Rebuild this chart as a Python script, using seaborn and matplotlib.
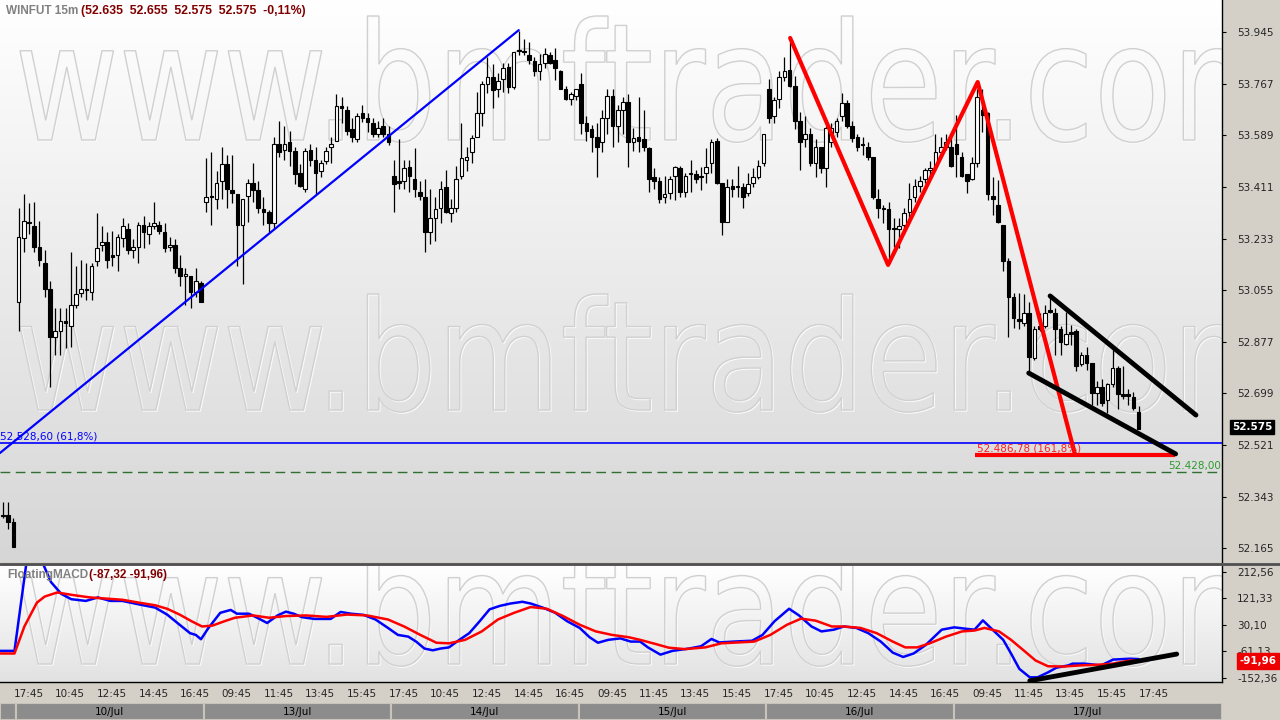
import numpy as np
import seaborn as sns
import matplotlib.pyplot as plt
from matplotlib.patches import Rectangle, PathPatch
from matplotlib.textpath import TextPath
from matplotlib.font_manager import FontProperties
from matplotlib.transforms import Affine2D, IdentityTransform
from matplotlib.colors import LinearSegmentedColormap

# 15m candles, 9/Jul 17:15 -> 17/Jul 17:45 (36 candles per session)
opens = [
    52280, 52280, 52255,
    53015, 53235, 53290, 53275, 53205, 53150, 53060, 52895, 52915, 52950,
    52930, 53005, 53045, 53060, 53050, 53155, 53210, 53220, 53175, 53175,
    53235, 53265, 53195, 53205, 53280, 53250, 53275, 53280, 53255, 53205,
    53210, 53130, 53105, 53105, 53050, 53080,
    53360, 53380, 53370, 53430, 53490, 53400, 53385, 53280, 53380, 53425,
    53400, 53335, 53325, 53285, 53560, 53540, 53565, 53535, 53460, 53405,
    53540, 53505, 53465, 53500, 53550, 53570, 53690, 53675, 53610, 53575,
    53665, 53650, 53630, 53595, 53620, 53595,
    53450, 53430, 53430, 53480, 53440, 53395, 53375, 53255, 53305, 53340,
    53410, 53320, 53340, 53450, 53505, 53530, 53585, 53665, 53765, 53790,
    53750, 53785, 53825, 53755, 53885, 53880, 53865, 53845, 53810, 53840,
    53865, 53850, 53810, 53750, 53715, 53725,
    53765, 53630, 53610, 53585, 53565, 53650, 53725, 53620, 53675, 53705,
    53565, 53585, 53575, 53545, 53445, 53430, 53375, 53390, 53450, 53475,
    53395, 53460, 53455, 53450, 53460, 53495, 53570, 53425, 53290, 53415,
    53410, 53410, 53390, 53425, 53445, 53495,
    53750, 53655, 53715, 53790, 53815, 53760, 53640, 53575, 53595, 53495,
    53550, 53475, 53565, 53600, 53655, 53700, 53620, 53585, 53560, 53550,
    53515, 53370, 53340, 53335, 53270, 53265, 53280, 53325, 53375, 53415,
    53440, 53470, 53480, 53530, 53550, 53550,
    53560, 53515, 53455, 53440, 53495, 53675, 53665, 53380, 53350, 53280,
    53155, 53030, 52955, 52940, 52975, 52820, 52930, 52930, 52985, 52975,
    52920, 52870, 52910, 52915, 52800, 52830, 52805, 52700, 52720, 52675,
    52730, 52785, 52695, 52695, 52685, 52635,
]
highs = [
    52325, 52325, 52270,
    53340, 53385, 53355, 53360, 53295, 53195, 53085, 52995, 52995, 52995,
    53185, 53140, 53160, 53150, 53150, 53320, 53275, 53255, 53260, 53250,
    53305, 53285, 53230, 53290, 53310, 53290, 53360, 53295, 53285, 53240,
    53230, 53175, 53130, 53105, 53130, 53085,
    53510, 53530, 53465, 53550, 53520, 53520, 53385, 53370, 53440, 53495,
    53430, 53375, 53330, 53585, 53640, 53620, 53605, 53550, 53490, 53545,
    53560, 53550, 53505, 53550, 53585, 53730, 53720, 53690, 53650, 53665,
    53695, 53665, 53650, 53640, 53650, 53620,
    53505, 53575, 53505, 53505, 53545, 53430, 53440, 53405, 53375, 53430,
    53470, 53370, 53485, 53630, 53550, 53590, 53740, 53775, 53860, 53835,
    53805, 53840, 53840, 53875, 53950, 53920, 53910, 53860, 53870, 53890,
    53875, 53890, 53815, 53760, 53740, 53750,
    53805, 53655, 53625, 53630, 53675, 53750, 53750, 53695, 53720, 53730,
    53615, 53720, 53675, 53550, 53475, 53445, 53450, 53450, 53485, 53485,
    53460, 53505, 53470, 53480, 53545, 53575, 53580, 53425, 53440, 53440,
    53485, 53425, 53460, 53475, 53505, 53595,
    53785, 53720, 53810, 53860, 53910, 53795, 53670, 53655, 53615, 53575,
    53550, 53620, 53630, 53650, 53735, 53710, 53640, 53595, 53585, 53565,
    53515, 53405, 53350, 53360, 53305, 53305, 53340, 53425, 53440, 53450,
    53475, 53500, 53595, 53585, 53595, 53585,
    53660, 53530, 53455, 53515, 53750, 53750, 53670, 53445, 53435, 53280,
    53165, 53045, 53045, 53040, 53015, 52930, 52975, 53005, 53040, 52995,
    52930, 52980, 52935, 52920, 52840, 52860, 52805, 52740, 52750, 52735,
    52850, 52795, 52795, 52715, 52705, 52655,
]
lows = [
    52270, 52230, 52170,
    52915, 53185, 53250, 53185, 53140, 53030, 52720, 52830, 52830, 52855,
    52860, 52995, 53030, 53020, 53020, 53140, 53190, 53130, 53140, 53120,
    53205, 53180, 53165, 53150, 53200, 53215, 53265, 53250, 53185, 53190,
    53115, 53070, 53005, 52995, 53030, 53015,
    53325, 53280, 53335, 53370, 53340, 53355, 53140, 53075, 53290, 53360,
    53320, 53280, 53255, 53265, 53515, 53505, 53485, 53420, 53410, 53395,
    53485, 53385, 53445, 53490, 53495, 53570, 53630, 53590, 53565, 53565,
    53635, 53600, 53585, 53585, 53585, 53555,
    53325, 53405, 53405, 53395, 53375, 53365, 53185, 53215, 53225, 53285,
    53320, 53290, 53325, 53440, 53465, 53495, 53585, 53620, 53735, 53685,
    53720, 53740, 53735, 53750, 53865, 53865, 53835, 53795, 53780, 53820,
    53835, 53780, 53750, 53710, 53695, 53710,
    53595, 53570, 53530, 53445, 53530, 53595, 53550, 53565, 53595, 53480,
    53535, 53530, 53535, 53395, 53405, 53355, 53355, 53370, 53365, 53375,
    53375, 53395, 53425, 53400, 53425, 53460, 53420, 53245, 53290, 53375,
    53375, 53340, 53380, 53410, 53440, 53485,
    53630, 53630, 53685, 53775, 53755, 53610, 53470, 53550, 53485, 53445,
    53460, 53410, 53550, 53585, 53640, 53615, 53565, 53535, 53520, 53505,
    53370, 53305, 53285, 53150, 53205, 53200, 53250, 53295, 53360, 53395,
    53425, 53450, 53465, 53510, 53540, 53480,
    53445, 53445, 53390, 53435, 53480, 53600, 53365, 53315, 53285, 53120,
    52895, 52925, 52920, 52930, 52775, 52815, 52915, 52925, 52975, 52830,
    52830, 52865, 52865, 52775, 52795, 52780, 52660, 52660, 52655, 52630,
    52720, 52645, 52680, 52660, 52640, 52575,
]
closes = [
    52275, 52255, 52170,
    53240, 53295, 53285, 53205, 53160, 53060, 52895, 52915, 52950, 52940,
    53005, 53040, 53060, 53055, 53140, 53200, 53220, 53160, 53170, 53240,
    53275, 53195, 53205, 53280, 53255, 53275, 53285, 53260, 53200, 53210,
    53130, 53105, 53110, 53050, 53085, 53015,
    53375, 53375, 53425, 53490, 53405, 53390, 53280, 53370, 53425, 53400,
    53340, 53325, 53285, 53560, 53530, 53560, 53535, 53455, 53415, 53535,
    53505, 53460, 53495, 53535, 53560, 53690, 53685, 53605, 53585, 53655,
    53650, 53635, 53595, 53615, 53595, 53565,
    53420, 53425, 53475, 53450, 53405, 53380, 53255, 53305, 53335, 53405,
    53325, 53340, 53440, 53510, 53515, 53580, 53665, 53765, 53790, 53745,
    53775, 53820, 53755, 53875, 53880, 53875, 53850, 53810, 53835, 53870,
    53840, 53820, 53750, 53715, 53730, 53750,
    53630, 53605, 53585, 53550, 53650, 53725, 53620, 53675, 53705, 53565,
    53580, 53570, 53550, 53440, 53430, 53370, 53385, 53440, 53480, 53395,
    53450, 53455, 53440, 53445, 53480, 53565, 53425, 53290, 53410, 53405,
    53415, 53375, 53420, 53445, 53485, 53595,
    53650, 53710, 53790, 53810, 53760, 53640, 53565, 53595, 53495, 53550,
    53475, 53615, 53615, 53640, 53700, 53620, 53580, 53550, 53555, 53515,
    53375, 53340, 53335, 53265, 53265, 53275, 53320, 53370, 53415, 53430,
    53470, 53475, 53530, 53550, 53565, 53485,
    53525, 53450, 53430, 53495, 53720, 53660, 53385, 53370, 53290, 53155,
    53030, 52960, 52950, 52975, 52825, 52920, 52920, 52975, 52980, 52920,
    52875, 52905, 52905, 52795, 52830, 52805, 52700, 52720, 52665, 52730,
    52785, 52695, 52690, 52690, 52650, 52575,
]

price_ticks = [52165, 52343, 52521, 52699, 52877, 53055, 53233, 53411, 53589, 53767, 53945]
price_tick_labels = ["52.165", "52.343", "52.521", "52.699", "52.877", "53.055",
                     "53.233", "53.411", "53.589", "53.767", "53.945"]

time_labels = ["17:45", "10:45", "12:45", "14:45", "16:45",
               "09:45", "11:45", "13:45", "15:45", "17:45",
               "10:45", "12:45", "14:45", "16:45",
               "09:45", "11:45", "13:45", "15:45", "17:45",
               "10:45", "12:45", "14:45", "16:45",
               "09:45", "11:45", "13:45", "15:45", "17:45"]
date_labels = ["", "10/Jul", "13/Jul", "14/Jul", "15/Jul", "16/Jul", "17/Jul"]
day_first_candle = [0, 3, 39, 75, 111, 147, 183]

# FloatingMACD (vertices read at candle positions)
macd_x = [-0.6, 2.2, 4.5, 6.5, 9.2, 11.2, 13.1, 15.9, 18.2, 20.6, 22.9, 26.1, 29.2, 31.5,
          33.9, 35.9, 37.0, 38.0, 39.4, 41.7, 43.7, 44.9, 47.2, 48.8, 50.7, 52.7, 54.3,
          55.8, 57.4, 59.8, 62.9, 64.8, 66.8, 69.2, 71.5, 73.9, 75.8, 77.8, 79.3, 80.9,
          82.5, 84.0, 85.6, 87.6, 89.5, 91.5, 93.4, 95.4, 97.4, 99.7, 101.3, 103.6, 106.0,
          108.3, 110.7, 112.6, 114.2, 116.2, 118.5, 120.5, 122.3, 123.8, 126.2, 128.5,
          131.7, 134.0, 136.0, 137.5, 140.3, 143.8, 145.8, 148.1, 150.9, 152.8, 155.2,
          157.1, 159.5, 161.4, 163.8, 166.1, 168.5, 170.8, 172.8, 174.8, 177.1, 180.2,
          182.6, 184.9, 186.5, 188.1, 189.6, 192.0, 193.5, 195.1, 197.1, 198.6, 200.6,
          202.2, 204.5, 205.3, 207.7, 209.2, 210.8, 213.1, 216.3, 218.0]
macd_vals = [-59, -59, 245, 290, 178, 137, 119, 113, 125, 113, 113, 101, 90, 66,
             31, 2, -4, -19, 19, 72, 82, 69, 69, 55, 37, 63, 76,
             69, 57, 51, 51, 75, 69, 65, 49, 20, -4, -10, -27, -51,
             -57, -51, -47, -21, 2, 43, 84, 96, 104, 110, 104, 90, 72,
             43, 20, -12, -31, -21, -16, -27, -27, -47, -72, -59,
             -51, -43, -18, -30, -27, -24, -4, 43, 86, 63, 25,
             8, 14, 25, 20, 2, -27, -65, -80, -68, -39, 14,
             22, 17, 14, 46, 20, -21, -68, -121, -150, -150, -133,
             -117, -109, -103, -103, -106, -109, -89, -86, -87.32]
signal_x = [-0.6, 2.2, 4.1, 6.5, 8.0, 10.4, 13.5, 16.7, 19.8, 22.9, 26.1, 29.2, 31.5, 33.9,
            36.2, 38.2, 40.2, 42.5, 44.5, 48.0, 51.1, 54.3, 58.2, 62.1, 66.0, 69.9, 73.9,
            77.0, 80.1, 83.2, 85.6, 88.7, 91.9, 95.0, 98.1, 101.3, 104.4, 107.5, 110.7,
            113.8, 116.9, 120.1, 122.3, 125.4, 127.8, 130.9, 134.8, 137.9, 144.2, 147.3,
            150.5, 153.2, 156.0, 159.1, 161.4, 164.6, 167.7, 170.8, 173.2, 175.5, 177.9,
            181.0, 184.1, 186.5, 188.4, 191.2, 193.5, 195.9, 198.2, 200.6, 203.7, 206.8,
            210.0, 213.1, 216.3, 218.0]
signal_vals = [-68, -68, 25, 107, 128, 142, 133, 125, 121, 117, 107, 98, 86, 66,
               43, 25, 28, 43, 55, 63, 55, 61, 63, 58, 66, 63, 49,
               25, -4, -31, -33, -21, 8, 49, 72, 92, 86, 61, 31,
               8, -4, -12, -21, -36, -48, -53, -47, -33, -27, -4,
               31, 52, 45, 25, 25, 20, 2, -27, -47, -47, -33,
               -10, 8, 11, 20, 8, -21, -57, -92, -112, -113, -109,
               -107, -103, -92, -91.96]
macd_ticks = [-152.36, -61.13, 30.10, 121.33, 212.56]
macd_tick_labels = ["-152,36", "-61,13", "30,10", "121,33", "212,56"]

# drawn studies (candle index, price)
trend_x = [-0.6, 99.0]
trend_y = [52493, 53952]
zigzag_x = [151.1, 169.9, 187.1, 205.8]
zigzag_y = [53925, 53142, 53773, 52486.78]
fibo_618 = 52528.60
fibo_1618 = 52486.78
fibo_1618_span = [186.6, 224.9]
target = 52428.00
channel_top_x = [201.0, 229.0]
channel_top_y = [53035, 52624]
channel_bot_x = [196.9, 225.1]
channel_bot_y = [52769, 52490]
macd_trend_x = [197.1, 225.3]
macd_trend_y = [-162, -70]

W, H = 1280, 720
XL = (-0.58, 234.0)

sns.set_style("white")
plt.rcParams["font.family"] = ["DejaVu Sans"]


def px(x, y):
    return x / W, 1 - y / H


def gradient(ax, top, bottom):
    cmap = LinearSegmentedColormap.from_list("bg", [top, bottom])
    ax.imshow(np.linspace(0, 1, 256).reshape(-1, 1), extent=[0, 1, 0, 1],
              transform=ax.transAxes, cmap=cmap, aspect="auto", origin="upper", zorder=0)


def watermark(ax, x0, baseline, asc=124, width=1265):
    # outlined site name behind the price data
    tp = TextPath((0, 0), "www.bmftrader.com", size=1, prop=FontProperties(family="DejaVu Sans"))
    ext = tp.get_extents()
    tr = Affine2D().translate(-ext.x0, 0).scale(width / ext.width, asc / ext.y1).translate(x0, H - baseline)
    path = tr.transform_path(tp)
    for dx, dy, col in [(1.0, -1.0, "#fafafa"), (0, 0, "#d0d0d0")]:
        p = PathPatch(path, facecolor="none", edgecolor=col, lw=1.0, zorder=1)
        p.set_transform(Affine2D().translate(dx, dy) + IdentityTransform())
        ax.add_patch(p)


fig = plt.figure(figsize=(W / 100, H / 100), dpi=100)
fig.patch.set_facecolor("#d4d0c8")

# ---- price panel ----
ax = fig.add_axes([0, (H - 562) / H, 1222 / W, 562 / H])
gradient(ax, "#ffffff", "#d6d6d6")
watermark(ax, 20, 140)
watermark(ax, 20, 410, asc=116)

x = np.arange(len(closes))
o, h, l, c = (np.array(v, dtype=float) for v in (opens, highs, lows, closes))
body_lo = np.minimum(o, c)
body_h = np.maximum(np.abs(c - o), 3)
fills = np.where(c >= o, "white", "black")
ax.vlines(x, l, h, color="black", lw=0.9, zorder=3)
ax.bar(x, body_h, bottom=body_lo, width=0.7, color=fills, edgecolor="black", linewidth=0.8, zorder=4)

ax.plot(trend_x, trend_y, color="#0000ff", lw=1.6, zorder=5)
ax.axhline(fibo_618, color="#0000ff", lw=1.2, zorder=5)
ax.text(XL[0], fibo_618 + 3, "52.528,60 (61,8%)", color="#0000ff", fontsize=7.5, va="bottom", ha="left", zorder=6)
ax.axhline(target, color="#2f6f2f", lw=1.0, ls=(0, (7, 4)), zorder=5)
ax.text(233.8, target + 2, "52.428,00", color="#2e9a2e", fontsize=7.5, va="bottom", ha="right", zorder=6)
ax.plot(zigzag_x, zigzag_y, color="#ff0000", lw=3, solid_capstyle="round", zorder=6)
ax.hlines(fibo_1618, *fibo_1618_span, color="#ff0000", lw=3, zorder=6)
ax.text(fibo_1618_span[0] + 0.3, fibo_1618 + 6, "52.486,78 (161,8%)", color="#ff2020", fontsize=7.5,
        va="bottom", ha="left", zorder=6)
ax.plot(channel_top_x, channel_top_y, color="black", lw=3.5, solid_capstyle="round", zorder=6)
ax.plot(channel_bot_x, channel_bot_y, color="black", lw=3.5, solid_capstyle="round", zorder=6)

ax.set_xlim(*XL)
ax.set_ylim(54056 - 562 * 3.45, 54056)
ax.yaxis.tick_right()
ax.set_yticks(price_ticks)
ax.set_yticklabels(price_tick_labels)
ax.set_xticks([])
ax.tick_params(axis="y", direction="out", length=3, width=0.8, color="black", labelsize=7.5, pad=8)
for s in ["top", "left", "bottom"]:
    ax.spines[s].set_visible(False)
ax.spines["right"].set_color("black")
ax.spines["right"].set_linewidth(1)

# ---- MACD panel ----
axm = fig.add_axes([0, 38 / H, 1222 / W, 116 / H])
gradient(axm, "#ffffff", "#e2e2e2")
watermark(axm, 20, 664, asc=120)
sns.lineplot(x=macd_x, y=macd_vals, ax=axm, color="#0000ff", lw=1.8, sort=False, estimator=None, zorder=4)
sns.lineplot(x=signal_x, y=signal_vals, ax=axm, color="#ff0000", lw=1.8, sort=False, estimator=None, zorder=5)
axm.plot(macd_trend_x, macd_trend_y, color="black", lw=3.5, solid_capstyle="round", zorder=6)
axm.set_xlim(*XL)
axm.set_ylim(212.56 - 110 * 3.443, 212.56 + 6 * 3.443)
axm.yaxis.tick_right()
axm.set_yticks(macd_ticks)
axm.set_yticklabels(macd_tick_labels)
axm.set_xticks(np.arange(2, len(closes), 8))
axm.set_xticklabels(time_labels, ha="left")
axm.tick_params(axis="y", direction="out", length=3, width=0.8, color="black", labelsize=7.5, pad=8)
axm.tick_params(axis="x", direction="out", length=3, width=0.8, color="black", labelsize=7.5, pad=2)
axm.set_xlabel("")
axm.set_ylabel("")
axm.spines["top"].set_visible(False)
axm.spines["left"].set_visible(False)
for s in ["right", "bottom"]:
    axm.spines[s].set_color("black")
    axm.spines[s].set_linewidth(1)

# ---- date bar ----
axd = fig.add_axes([0, 0, 1222 / W, 17 / H])
axd.set_xlim(*XL)
axd.set_ylim(0, 1)
axd.axis("off")
bounds = [XL[0]] + [d - 0.5 for d in day_first_candle[1:]] + [XL[1]]
for lab, b0, b1 in zip(date_labels, bounds[:-1], bounds[1:]):
    axd.add_patch(Rectangle((b0, 0), b1 - b0, 1, facecolor="#8c8c8c", edgecolor="#c8c4bc", lw=1.5))
    axd.text((b0 + b1) / 2, 0.45, lab, ha="center", va="center", fontsize=7.5, color="black")

# separators
fig.add_artist(plt.Line2D([0, 1], [1 - 564 / H] * 2, color="#505050", lw=2, transform=fig.transFigure))

# titles
fig.text(*px(6, 11), "WINFUT 15m", color="#808080", fontsize=8.5, fontweight="bold",
         family="Liberation Sans", va="center")
fig.text(*px(81, 11), "(52.635  52.655  52.575  52.575  -0,11%)", color="#800000", fontsize=8.8,
         fontweight="bold", family="Liberation Sans", va="center")
fig.text(*px(7, 575), "FloatingMACD", color="#808080", fontsize=8.5, fontweight="bold",
         family="Liberation Sans", va="center")
fig.text(*px(89, 575), "(-87,32 -91,96)", color="#800000", fontsize=8.5, fontweight="bold",
         family="Liberation Sans", va="center")

# last value tags
fig.text(*px(1252, 427), "52.575", color="white", fontsize=7.5, fontweight="bold", ha="center", va="center",
         bbox=dict(boxstyle="square,pad=0.2", facecolor="black", edgecolor="black"))
fig.text(*px(1258, 661), "-91,96", color="white", fontsize=7.5, fontweight="bold", ha="center", va="center",
         bbox=dict(boxstyle="square,pad=0.25", facecolor="#ee0000", edgecolor="#ee0000"))

fig.savefig("out.png", dpi=100, facecolor=fig.get_facecolor())
